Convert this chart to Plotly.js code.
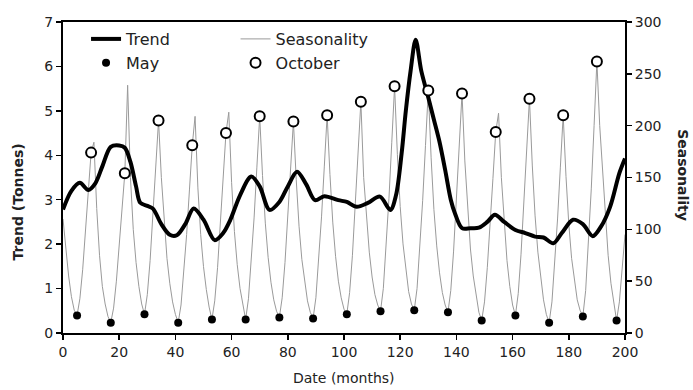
<!DOCTYPE html>
<html>
<head>
<meta charset="utf-8">
<script src="https://cdn.plot.ly/plotly-3.0.1.min.js"></script>
<style>
  html, body { margin: 0; padding: 0; background: #fff; }
  #chart { width: 693px; height: 390px; }
</style>
</head>
<body>
<div id="chart"></div>
<script>
// Monthly seasonality index (months 0..200)
const seasonality = [
  110, 80, 55, 35, 22,
  17, 33, 61, 96, 135, 174, 184,
  120, 75, 45, 28, 16, 10,
  24, 50, 82, 118, 154, 239,
  150, 100, 68, 45, 28, 18,
  37, 70, 112, 158, 205, 150,
  105, 72, 48, 30, 18, 10,
  27, 58, 95, 138, 181, 209,
  140, 95, 64, 42, 25, 13,
  31, 63, 103, 148, 193, 213,
  145, 98, 66, 43, 26, 13,
  33, 68, 111, 160, 209, 152,
  106, 73, 49, 32, 21, 15,
  34, 68, 110, 157, 204, 148,
  103, 71, 48, 31, 20, 14,
  34, 69, 112, 161, 210, 153,
  107, 74, 50, 34, 23, 18,
  39, 75, 121, 172, 223, 150,
  110, 78, 54, 37, 27, 21,
  43, 82, 130, 184, 238, 172,
  122, 86, 60, 40, 28, 22,
  43, 81, 128, 181, 234, 169,
  119, 84, 58, 39, 27, 20,
  41, 79, 126, 178, 231, 166,
  117, 81, 55, 35, 20, 12,
  30, 63, 103, 149, 194, 212,
  150, 104, 70, 45, 27, 17,
  38, 76, 122, 174, 226, 162,
  113, 78, 52, 32, 18, 10,
  30, 66, 110, 160, 210, 151,
  105, 72, 49, 32, 22, 16,
  41, 85, 139, 200, 262, 200,
  155, 110, 75, 48, 28, 12,
  30, 60, 95
];
const seasonMonths = seasonality.map((_, i) => i);

// Smoothed trend (tonnes)
const trendMonths = [0, 3, 6, 9, 11.5, 14, 17, 20, 22, 24, 26, 27.5, 30, 32, 35, 38, 40.5, 43.5, 46.5, 50,
  54, 57, 59.5, 63, 67, 70, 73.5, 77, 80, 83.3, 86.5, 89.7, 93, 98, 101, 104.5, 108.5, 112.8, 116.5, 118.5,
  120.5, 122, 123.7, 125.5, 127.5, 130, 132, 134, 136, 138, 139.5, 142, 145, 148, 151, 153.7, 157, 161, 164.5, 168,
  171, 174.5, 177.5, 181.5, 185, 188.5, 191.5, 194.7, 198, 200];
const trendValues = [2.78, 3.2, 3.38, 3.22, 3.37, 3.75, 4.19, 4.22, 4.17, 3.85, 3.3, 2.93, 2.86, 2.8, 2.45, 2.21, 2.2, 2.45, 2.8, 2.55,
  2.09, 2.25, 2.54, 3.1, 3.52, 3.3, 2.77, 2.95, 3.3, 3.63, 3.35, 2.99, 3.08, 2.99, 2.95, 2.84, 2.93, 3.07, 2.77, 3.1,
  4.04, 5.0, 5.9, 6.6, 5.9, 5.3, 4.8, 4.3, 3.67, 3.0, 2.69, 2.36, 2.36, 2.37, 2.5, 2.66, 2.5, 2.32, 2.25, 2.17,
  2.15, 2.02, 2.25, 2.55, 2.45, 2.18, 2.4, 2.84, 3.6, 3.93];

// Months picked out with markers
const mayMonths = [5, 17, 29, 41, 53, 65, 77, 89, 101, 113, 125, 137, 149, 161, 173, 185, 197];
const octoberMonths = [10, 22, 34, 46, 58, 70, 82, 94, 106, 118, 130, 142, 154, 166, 178, 190];
const mayValues = mayMonths.map(m => seasonality[m]);
const octoberValues = octoberMonths.map(m => seasonality[m]);

const xTicks = [0, 20, 40, 60, 80, 100, 120, 140, 160, 180, 200];

const FONT = 'DejaVu Sans, Arial, sans-serif';
const INK = '#222';

const traces = [
  {
    x: seasonMonths, y: seasonality, name: 'Seasonality', type: 'scatter', mode: 'lines',
    xaxis: 'x', yaxis: 'y', legend: 'legend2',
    line: { color: '#9a9a9a', width: 1 }
  },
  {
    x: trendMonths, y: trendValues, name: 'Trend', type: 'scatter', mode: 'lines',
    xaxis: 'x', yaxis: 'y2', legend: 'legend',
    line: { color: '#000', width: 4, shape: 'spline', smoothing: 0.9 }
  },
  {
    x: mayMonths, y: mayValues, name: 'May', type: 'scatter', mode: 'markers',
    xaxis: 'x', yaxis: 'y3', legend: 'legend',
    marker: { symbol: 'circle', size: 8, color: '#000' }
  },
  {
    x: octoberMonths, y: octoberValues, name: 'October', type: 'scatter', mode: 'markers',
    xaxis: 'x', yaxis: 'y3', legend: 'legend2',
    marker: { symbol: 'circle', size: 10, color: '#fff', line: { color: '#000', width: 2 } }
  }
];

const axisCommon = {
  showgrid: false, zeroline: false, showline: true, linecolor: '#000', linewidth: 2,
  ticks: 'outside', ticklen: 5, tickwidth: 1.5, tickcolor: '#000',
  tickfont: { family: FONT, size: 14, color: INK }
};

const layout = {
  width: 693, height: 390,
  margin: { l: 63, r: 68, t: 22, b: 57 },
  paper_bgcolor: '#fff', plot_bgcolor: '#fff',
  font: { family: FONT, color: INK },
  xaxis: Object.assign({}, axisCommon, {
    range: [0, 200], tickvals: xTicks, mirror: true, anchor: 'y'
  }),
  yaxis: Object.assign({}, axisCommon, {
    range: [0, 300], dtick: 50, side: 'right', anchor: 'x'
  }),
  yaxis2: Object.assign({}, axisCommon, {
    range: [0, 7], dtick: 1, side: 'left', overlaying: 'y', anchor: 'x'
  }),
  yaxis3: { range: [0, 300], overlaying: 'y', visible: false, anchor: 'x' },
  showlegend: true,
  legend: {
    x: 0.041, y: 1.0, xanchor: 'left', yanchor: 'top',
    bgcolor: 'rgba(0,0,0,0)', font: { family: FONT, size: 16, color: INK },
    orientation: 'v', tracegroupgap: 0
  },
  legend2: {
    x: 0.307, y: 1.0, xanchor: 'left', yanchor: 'top',
    bgcolor: 'rgba(0,0,0,0)', font: { family: FONT, size: 16, color: INK },
    orientation: 'v', tracegroupgap: 0
  },
  annotations: [
    {
      text: 'Trend (Tonnes)', xref: 'paper', yref: 'paper', x: -0.08, y: 0.42,
      xanchor: 'center', yanchor: 'middle', textangle: -90, showarrow: false,
      font: { family: FONT, size: 14, color: INK, weight: 'bold' }
    },
    {
      text: 'Seasonality', xref: 'paper', yref: 'paper', x: 1.103, y: 0.508,
      xanchor: 'center', yanchor: 'middle', textangle: 90, showarrow: false,
      font: { family: FONT, size: 14, color: INK, weight: 'bold' }
    },
    {
      text: 'Date (months)', xref: 'paper', yref: 'paper', x: 0.5, y: -0.145,
      xanchor: 'center', yanchor: 'middle', showarrow: false,
      font: { family: FONT, size: 14, color: INK }
    }
  ]
};

Plotly.newPlot('chart', traces, layout, { displayModeBar: false, staticPlot: true });
</script>
</body>
</html>
